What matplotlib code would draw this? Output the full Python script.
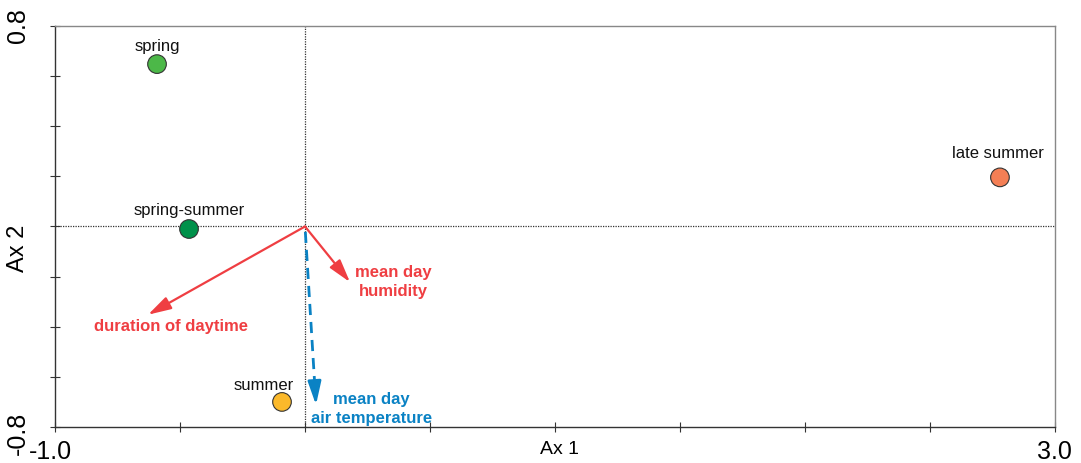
import numpy as np
import matplotlib.pyplot as plt

plt.rcParams['font.family'] = ['Liberation Sans', 'DejaVu Sans']

# sites / seasons (scores on Ax 1, Ax 2)
seasons = ['spring', 'spring-summer', 'summer', 'late summer']
ax1_scores = [-0.592, -0.464, -0.092, 2.780]
ax2_scores = [0.648, -0.010, -0.700, 0.196]
season_colors = ['#4cb848', '#00914a', '#fbb92b', '#f47f55']
label_offsets = [(0, 19), (0, 20), (-18, 17), (-2, 25)]  # pixels

# environmental vectors
vectors = ['duration of daytime', 'mean day\nhumidity', 'mean day\nair temperature']
vec_x = [-0.628, 0.180, 0.044]
vec_y = [-0.352, -0.222, -0.712]
vec_colors = ['#ef3e42', '#ef3e42', '#0a82c4']
vec_dashed = [False, False, True]
vec_label_x = [-0.536, 0.352, 0.266]
vec_label_y = [-0.396, -0.218, -0.724]

fig = plt.figure(figsize=(10.81, 4.64), dpi=100)
ax = fig.add_axes([0.0509, 0.0776, 0.925, 0.8642])
ax.set_xlim(-1.0, 3.0)
ax.set_ylim(-0.8, 0.8)

# axes through origin
ax.axvline(0, color='#333333', lw=0.9, ls=(0, (1, 1)), zorder=1)
ax.axhline(0, color='#333333', lw=0.9, ls=(0, (1, 1)), zorder=1)

head = '-|>,head_length=0.7,head_width=0.2'
# vectors
for x, y, c, dashed in zip(vec_x, vec_y, vec_colors, vec_dashed):
    if dashed:
        ax.plot([x * 0.03, x * 0.93], [y * 0.03, y * 0.93], color=c, lw=2.0,
                ls=(0, (4, 2.5)), zorder=2)
        ax.annotate('', xy=(x, y), xytext=(x * 0.9, y * 0.9),
                    arrowprops=dict(arrowstyle=head, color=c, lw=2.0,
                                    mutation_scale=20, shrinkA=0, shrinkB=0), zorder=2)
    else:
        ax.annotate('', xy=(x, y), xytext=(0, 0),
                    arrowprops=dict(arrowstyle=head, color=c, lw=1.6,
                                    mutation_scale=20, shrinkA=0, shrinkB=0), zorder=2)

for name, lx, ly, c in zip(vectors, vec_label_x, vec_label_y, vec_colors):
    ax.text(lx, ly, name, color=c, fontsize=12, fontweight='bold',
            ha='center', va='center', multialignment='center', linespacing=1.3)

# season points
ax.scatter(ax1_scores, ax2_scores, s=180, c=season_colors, edgecolors='#333333',
           linewidths=0.8, zorder=3)
for name, x, y, off in zip(seasons, ax1_scores, ax2_scores, label_offsets):
    ax.annotate(name, xy=(x, y), xytext=off, textcoords='offset pixels',
                ha='center', va='center', fontsize=12, color='#111111')

# spines / ticks
for side in ['top', 'right']:
    ax.spines[side].set_color('#888888')
for side in ['left', 'bottom']:
    ax.spines[side].set_color('#333333')
for s in ax.spines.values():
    s.set_linewidth(1.0)

ax.set_xticks(np.arange(-1.0, 3.01, 0.5))
ax.set_yticks(np.arange(-0.8, 0.81, 0.2))
ax.set_xticklabels([])
ax.set_yticklabels([])
ax.tick_params(axis='x', direction='inout', length=7, width=0.8, color='#333333')
ax.tick_params(axis='y', direction='inout', length=7, width=0.8, color='#333333')

# end labels
ax.text(-1.02, -0.846, '-1.0', fontsize=18, ha='center', va='top')
ax.text(2.996, -0.846, '3.0', fontsize=18, ha='center', va='top')
ax.text(-1.148, 0.805, '0.8', fontsize=18, rotation=90, ha='center', va='center')
ax.text(-1.148, -0.82, '-0.8', fontsize=18, rotation=90, ha='center', va='center')
ax.text(1.02, -0.852, 'Ax 1', fontsize=14, ha='center', va='top')
ax.text(-1.148, -0.085, 'Ax 2', fontsize=17, rotation=90, ha='center', va='center')

fig.savefig('out.png', dpi=100)
